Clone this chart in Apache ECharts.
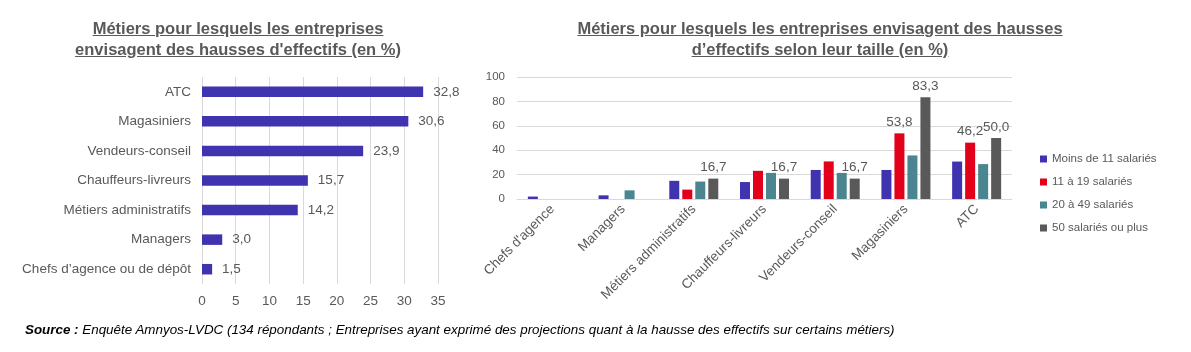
<!DOCTYPE html>
<html lang="fr">
<head>
<meta charset="utf-8">
<title>Métiers - hausses d'effectifs</title>
<script src="https://cdn.jsdelivr.net/npm/echarts@6/dist/echarts.min.js"></script>
<style>
  html, body { margin: 0; padding: 0; background: #fff; }
  #wrap { position: relative; width: 1191px; height: 352px; font-family: 'Liberation Sans', Arial, sans-serif; }
  #chart { position: absolute; left: 0; top: 0; width: 1191px; height: 352px; }
  .title { position: absolute; text-align: center; color: #595959; font-weight: bold; font-size: 16.5px; line-height: 21px; text-decoration: underline; }
  #title-left { left: 38px; top: 18px; width: 400px; }
  #title-right { left: 560px; top: 18px; width: 520px; }
  #source { position: absolute; left: 25px; top: 321px; font-size: 13.4px; line-height: 17px; font-style: italic; color: #000; white-space: nowrap; }
</style>
</head>
<body>
<div id="wrap">
  <div id="chart"></div>
  <div class="title" id="title-left">Métiers pour lesquels les entreprises<br>envisagent des hausses d'effectifs (en %)</div>
  <div class="title" id="title-right">Métiers pour lesquels les entreprises envisagent des hausses<br>d’effectifs selon leur taille (en %)</div>
  <div id="source"><b>Source :</b> Enquête Amnyos-LVDC (134 répondants ; Entreprises ayant exprimé des projections quant à la hausse des effectifs sur certains métiers)</div>
</div>
<script>
// left chart: all firms
const jobCategories = ['ATC', 'Magasiniers', 'Vendeurs-conseil', 'Chauffeurs-livreurs', 'Métiers administratifs', 'Managers', 'Chefs d’agence ou de dépôt']
const jobValues = [32.8, 30.6, 23.9, 15.7, 14.2, 3.0, 1.5]
const jobAxisMax = 35
const jobAxisStep = 5

// right chart: by firm size
const sizeCategories = ["Chefs d'agence", 'Managers', 'Métiers administratifs', 'Chauffeurs-livreurs', 'Vendeurs-conseil', 'Magasiniers', 'ATC']
const sizeNames = ['Moins de 11 salariés', '11 à 19 salariés', '20 à 49 salariés', '50 salariés ou plus']
const lessThan11 = [2.0, 3.0, 14.9, 13.9, 23.8, 23.8, 30.7]
const from11to19 = [0, 0, 7.7, 23.1, 30.8, 53.8, 46.2]
const from20to49 = [0, 7.1, 14.3, 21.4, 21.4, 35.7, 28.6]
const from50 = [0, 0, 16.7, 16.7, 16.7, 83.3, 50.0]
// indexes of the bars that carry a value label
const from11to19Labelled = [5, 6]
const from50Labelled = [2, 3, 4, 5, 6]
const sizeAxisMax = 100
const sizeAxisStep = 20

const colors = ['#3f33b0', '#e2001a', '#4b8590', '#595959']
const textColor = '#595959'
const gridColor = '#d9d9d9'

const fmt = p => Number(p.value).toFixed(1).replace('.', ',')

function sizeSeries(name, values, labelled, color) {
  return {
    name: name,
    type: 'bar',
    xAxisIndex: 1,
    yAxisIndex: 1,
    barWidth: 10,
    barGap: '30%',
    itemStyle: { color: color },
    data: values.map((v, i) => ({
      value: v,
      label: { show: labelled.indexOf(i) > -1 }
    })),
    label: {
      position: 'top',
      distance: 4,
      color: textColor,
      fontSize: 13.5,
      formatter: fmt
    }
  }
}

const chart = echarts.init(document.getElementById('chart'))
chart.setOption({
  animation: false,
  textStyle: { fontFamily: "'Liberation Sans', Arial, sans-serif" },
  grid: [
    { left: 202, top: 77, width: 236, height: 207 },
    { left: 517, right: 179, top: 77, height: 122 }
  ],
  legend: {
    data: sizeNames,
    orient: 'vertical',
    left: 1035,
    top: 147,
    icon: 'rect',
    itemWidth: 7,
    itemHeight: 7,
    itemGap: 9,
    textStyle: { color: textColor, fontSize: 11.5, lineHeight: 14 }
  },
  xAxis: [
    {
      gridIndex: 0,
      type: 'value',
      min: 0,
      max: jobAxisMax,
      interval: jobAxisStep,
      axisLine: { show: false },
      axisTick: { show: false },
      splitLine: { lineStyle: { color: gridColor } },
      axisLabel: { color: textColor, fontSize: 13.5, margin: 10 }
    },
    {
      gridIndex: 1,
      type: 'category',
      data: sizeCategories,
      axisLine: { lineStyle: { color: gridColor } },
      axisTick: { show: false },
      axisLabel: { color: textColor, fontSize: 13.5, rotate: 45, interval: 0, margin: 8 }
    }
  ],
  yAxis: [
    {
      gridIndex: 0,
      type: 'category',
      inverse: true,
      data: jobCategories,
      axisLine: { show: false },
      axisTick: { show: false },
      axisLabel: { color: textColor, fontSize: 13.5, margin: 11 }
    },
    {
      gridIndex: 1,
      type: 'value',
      min: 0,
      max: sizeAxisMax,
      interval: sizeAxisStep,
      axisLine: { show: false },
      axisTick: { show: false },
      splitLine: { lineStyle: { color: gridColor } },
      axisLabel: { color: textColor, fontSize: 11.5, margin: 12 }
    }
  ],
  series: [
    {
      type: 'bar',
      xAxisIndex: 0,
      yAxisIndex: 0,
      barWidth: 10.5,
      itemStyle: { color: colors[0] },
      data: jobValues,
      label: {
        show: true,
        position: 'right',
        distance: 10,
        color: textColor,
        fontSize: 13.5,
        formatter: fmt
      }
    },
    sizeSeries(sizeNames[0], lessThan11, [], colors[0]),
    sizeSeries(sizeNames[1], from11to19, from11to19Labelled, colors[1]),
    sizeSeries(sizeNames[2], from20to49, [], colors[2]),
    sizeSeries(sizeNames[3], from50, from50Labelled, colors[3])
  ]
})
</script>
</body>
</html>
